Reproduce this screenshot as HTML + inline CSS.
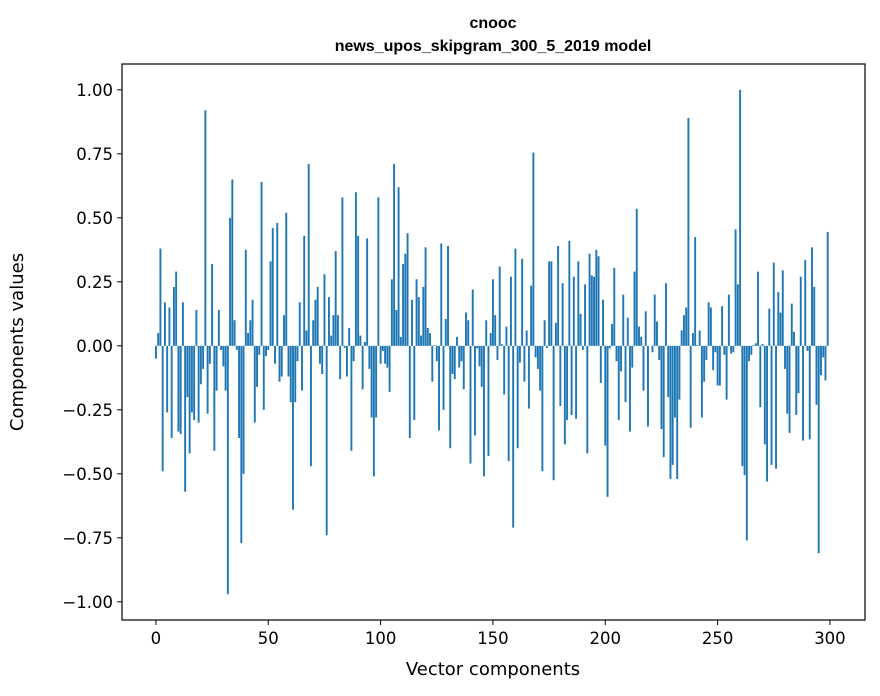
<!DOCTYPE html>
<html><head><meta charset="utf-8"><style>
html,body{margin:0;padding:0;background:#fff;}
svg{display:block;font-family:"DejaVu Sans","Liberation Sans",sans-serif;}
</style></head><body>
<svg id="chart" width="880" height="696" viewBox="0 0 880 696">
<rect width="880" height="696" fill="#fff"/>
<text x="493" y="28" text-anchor="middle" font-size="16" font-weight="bold" font-family="Liberation Sans, Arial, sans-serif">cnooc</text>
<text x="493" y="51" text-anchor="middle" font-size="16" font-weight="bold" font-family="Liberation Sans, Arial, sans-serif">news_upos_skipgram_300_5_2019 model</text>
<g id="bars"></g>
<g id="yticks"></g>
<g id="xticks"></g>
<rect x="122" y="64" width="743" height="556" fill="none" stroke="#000" stroke-width="1.2"/>
<text x="493" y="675" text-anchor="middle" font-size="18">Vector components</text>
<text transform="translate(23,342) rotate(-90)" text-anchor="middle" font-size="18">Components values</text>
</svg>
<script>
const values = [
-0.05,0.05,0.38,-0.49,0.17,-0.26,0.15,-0.36,0.23,0.29,
-0.335,-0.345,0.17,-0.57,-0.2,-0.42,-0.26,-0.29,0.14,-0.3,
-0.15,-0.09,0.92,-0.265,-0.07,0.32,-0.41,-0.175,0.14,-0.016,
-0.08,-0.175,-0.97,0.5,0.65,0.1,-0.016,-0.36,-0.77,-0.5,
0.375,0.05,0.1,0.18,-0.3,-0.16,-0.035,0.64,-0.25,-0.04,
-0.016,0.33,0.46,-0.07,0.48,-0.14,-0.12,0.12,0.52,-0.12,
-0.22,-0.64,-0.22,-0.06,0.17,-0.175,0.43,0.06,0.71,-0.47,
0.1,0.18,0.23,-0.07,-0.11,0.28,-0.74,0.19,0.04,0.12,
0.37,0.12,-0.13,0.58,-0.008,-0.12,0.07,-0.41,-0.06,0.6,
0.43,0.04,-0.17,0.015,0.42,-0.09,-0.28,-0.51,-0.28,0.58,
-0.07,-0.02,-0.07,-0.085,-0.18,0.26,0.71,0.14,0.62,0.035,
0.32,0.36,0.44,-0.36,0.18,-0.29,0.26,0.19,0.04,0.23,
0.385,0.07,0.05,-0.14,0.003,-0.06,-0.33,0.4,-0.25,0.105,
0.39,-0.4,-0.11,-0.13,0.035,-0.085,-0.06,-0.17,0.13,0.1,
-0.46,0.22,-0.35,-0.01,-0.08,-0.16,-0.51,0.1,-0.43,0.05,
0.26,0.12,-0.055,0.31,0.006,-0.19,0.075,-0.45,0.27,-0.71,
0.38,-0.4,-0.065,0.34,-0.14,0.06,-0.245,0.235,0.755,-0.045,
-0.09,-0.175,-0.49,0.1,-0.008,0.33,0.33,-0.525,0.09,0.39,
-0.235,0.245,-0.385,-0.29,0.41,-0.27,0.27,-0.285,0.33,0.125,
-0.016,0.24,-0.42,0.36,0.275,0.27,0.375,0.35,-0.145,0.18,
-0.39,-0.59,-0.01,0.085,0.305,-0.06,-0.29,-0.1,0.2,-0.22,
0.11,-0.335,-0.085,0.29,0.535,0.075,0.035,-0.175,0.135,-0.315,
0,-0.025,0.2,0.095,-0.055,-0.325,-0.435,0.245,-0.2,-0.52,
-0.465,-0.28,-0.52,-0.21,0.06,0.12,0.15,0.89,-0.32,0.05,
0.425,0.003,0.06,-0.28,-0.14,-0.055,0.17,0.15,-0.095,-0.025,
-0.155,-0.155,0.155,-0.035,-0.21,0.2,-0.03,-0.025,0.455,0.24,
1.0,-0.47,-0.505,-0.76,-0.06,-0.035,0.003,0.01,0.29,-0.24,
0.007,-0.385,-0.53,0.145,-0.465,0.325,-0.48,0.21,0.13,0.295,
-0.09,-0.265,-0.34,0.165,0.055,-0.27,-0.185,0.27,-0.37,0.335,
-0.02,-0.365,0.385,0.23,-0.23,-0.81,-0.115,-0.045,-0.135,0.445
];
const yTickValues = [-1.0,-0.75,-0.5,-0.25,0,0.25,0.5,0.75,1.0];
const yTickLabels = ["\u22121.00","\u22120.75","\u22120.50","\u22120.25","0.00","0.25","0.50","0.75","1.00"];
const xTickValues = [0,50,100,150,200,250,300];
const xTickLabels = ["0","50","100","150","200","250","300"];

const NS = "http://www.w3.org/2000/svg";
const plotL = 122, plotR = 865, plotT = 64, plotB = 620;
const xMin = -15.1, xMax = 315.6, yMin = -1.071, yMax = 1.101;
function xs(v){ return plotL + (v - xMin) / (xMax - xMin) * (plotR - plotL); }
function ys(v){ return plotB - (v - yMin) / (yMax - yMin) * (plotB - plotT); }

const bars = document.getElementById('bars');
values.forEach(function(v, i){
  const r = document.createElementNS(NS, 'rect');
  const x0 = xs(i - 0.42), x1 = xs(i + 0.43);
  const y0 = ys(Math.max(v, 0)), y1 = ys(Math.min(v, 0));
  r.setAttribute('x', x0);
  r.setAttribute('width', x1 - x0);
  r.setAttribute('y', y0);
  r.setAttribute('height', Math.max(y1 - y0, 0));
  r.setAttribute('fill', '#1f77b4');
  
  
  bars.appendChild(r);
});

const yg = document.getElementById('yticks');
yTickValues.forEach(function(v, i){
  const y = ys(v);
  const l = document.createElementNS(NS, 'line');
  l.setAttribute('x1', plotL - 5); l.setAttribute('x2', plotL);
  l.setAttribute('y1', y); l.setAttribute('y2', y);
  l.setAttribute('stroke', '#000'); l.setAttribute('stroke-width', '1');
  
  
  yg.appendChild(l);
  const t = document.createElementNS(NS, 'text');
  t.setAttribute('x', plotL - 9); t.setAttribute('y', y + 6);
  t.setAttribute('text-anchor', 'end'); t.setAttribute('font-size', '16.5');
  t.textContent = yTickLabels[i];
  
  
  yg.appendChild(t);
});

const xg = document.getElementById('xticks');
xTickValues.forEach(function(v, i){
  const x = xs(v);
  const l = document.createElementNS(NS, 'line');
  l.setAttribute('x1', x); l.setAttribute('x2', x);
  l.setAttribute('y1', plotB); l.setAttribute('y2', plotB + 5);
  l.setAttribute('stroke', '#000'); l.setAttribute('stroke-width', '1');
  
  
  xg.appendChild(l);
  const t = document.createElementNS(NS, 'text');
  t.setAttribute('x', x); t.setAttribute('y', plotB + 24);
  t.setAttribute('text-anchor', 'middle'); t.setAttribute('font-size', '16.5');
  t.textContent = xTickLabels[i];
  
  
  xg.appendChild(t);
});
</script>
</body></html>
